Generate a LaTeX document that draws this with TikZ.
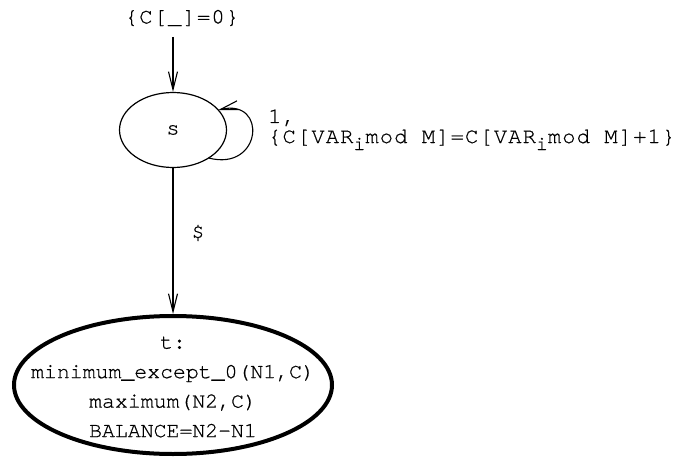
\documentclass[tikz,border=0pt]{standalone}
\usepackage{fontspec}
\newfontfamily\lblfont[LetterSpace=5.5,FakeBold=0.6]{TeX Gyre Cursor}
\newfontfamily\txtfont[FakeBold=0.6]{TeX Gyre Cursor}
\usetikzlibrary{arrows.meta,shapes.geometric}
\newcommand{\subi}{\raisebox{-7pt}{\fontsize{20}{20}\selectfont i}}
\begin{document}
\begin{tikzpicture}[x=1pt,y=-1pt,
  arr/.style={-{Straight Barb[length=18pt,width=9pt]}, line width=1.1pt},
  lbl/.style={font=\lblfont\fontsize{22}{24}\selectfont, inner sep=0pt},
  statebox/.style={ellipse, draw, line width=1.2pt, minimum width=107pt, minimum height=75pt, inner sep=0pt, font=\lblfont\fontsize{22}{24}\selectfont},
  finalbox/.style={ellipse, draw, line width=4pt, minimum width=318pt, minimum height=138pt, inner sep=0pt},
  ttext/.style={align=center, inner sep=0pt, font=\txtfont\fontsize{21.5}{29.5}\selectfont}]
\useasboundingbox (0,0) rectangle (678,460);
\node[lbl] (init) at (182,18) {\{C[\_]=0\}};
\coordinate (start) at (173,37);
\node[statebox] (s) at (173,130) {s};
\node[finalbox] (t) at (173,385) {};
\node[ttext] (tt) at (173,387) {t:\\minimum\_except\_0(N1,C)\\maximum(N2,C)\\BALANCE=N2-N1};
\draw[arr] (start) -- (s);
\draw[arr] (s) -- (t);
\node[lbl] (dollar) at (198,233) {\$};
\coordinate (la) at (208.6,158);
\coordinate (lb) at (218.3,110);
\draw[arr] (la) .. controls (262,172) and (268,98) .. (lb);
\node[lbl, anchor=base west] (l1) at (268,123) {1,};
\node[lbl, anchor=base west] (l2) at (268,143) {\{C[VAR\subi mod M]=C[VAR\subi mod M]+1\}};
\end{tikzpicture}
\end{document}
